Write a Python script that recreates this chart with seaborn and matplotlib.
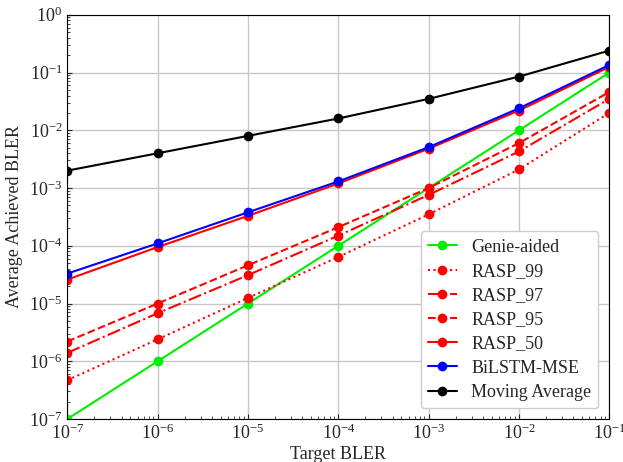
import numpy as np
import matplotlib
matplotlib.use("Agg")
import matplotlib.pyplot as plt
import seaborn as sns

target = [1e-7, 1e-6, 1e-5, 1e-4, 1e-3, 1e-2, 1e-1]

genie = [1e-7, 1e-6, 1e-5, 1e-4, 1e-3, 1e-2, 1e-1]
rasp_99 = [4.7e-7, 2.4e-6, 1.25e-5, 6.4e-5, 3.5e-4, 2.1e-3, 2.0e-2]
rasp_97 = [1.4e-6, 6.8e-6, 3.1e-5, 1.5e-4, 7.6e-4, 4.3e-3, 3.5e-2]
rasp_95 = [2.2e-6, 1.0e-5, 4.6e-5, 2.1e-4, 1.0e-3, 6.0e-3, 4.6e-2]
rasp_50 = [2.6e-5, 9.5e-5, 3.3e-4, 1.2e-3, 4.8e-3, 2.2e-2, 0.125]
bilstm = [3.3e-5, 1.1e-4, 3.8e-4, 1.3e-3, 5.1e-3, 2.4e-2, 0.135]
moving_avg = [2.0e-3, 4.0e-3, 8.0e-3, 1.6e-2, 3.5e-2, 8.5e-2, 0.24]

sns.set_style("ticks")
plt.rcParams['font.family'] = ['Liberation Serif', 'DejaVu Serif']
plt.rcParams['mathtext.fontset'] = 'stix'

fig, ax = plt.subplots(figsize=(6.23, 4.62), dpi=100)
fig.subplots_adjust(left=0.108, right=0.978, top=0.968, bottom=0.093)

series = [
    (genie, 'Genie-aided', '#00ee00', '-'),
    (rasp_99, 'RASP_99', 'red', ':'),
    (rasp_97, 'RASP_97', 'red', '-.'),
    (rasp_95, 'RASP_95', 'red', '--'),
    (rasp_50, 'RASP_50', 'red', '-'),
    (bilstm, 'BiLSTM-MSE', 'blue', '-'),
    (moving_avg, 'Moving Average', 'black', '-'),
]
for vals, name, col, ls in series:
    sns.lineplot(x=target, y=vals, ax=ax, color=col, linestyle=ls, marker='o',
                 markersize=7, markeredgewidth=0, linewidth=1.5, label=name)

ax.set_xscale('log')
ax.set_yscale('log')
ax.set_xlim(1e-7, 1e-1)
ax.set_ylim(1e-7, 1)
ax.grid(True, which='major', color='#c8c8c8', linewidth=1)
ax.tick_params(which='both', direction='in', labelsize=13)
ax.set_xlabel('Target BLER', fontsize=13, labelpad=2)
ax.set_ylabel('Average Achieved BLER', fontsize=13)
for s in ax.spines.values():
    s.set_color('black')
leg = ax.legend(loc='lower right', fontsize=13, framealpha=1, edgecolor='#cccccc',
                handlelength=1.6, labelspacing=0.4, borderaxespad=0.6)

plt.savefig('out.png')
